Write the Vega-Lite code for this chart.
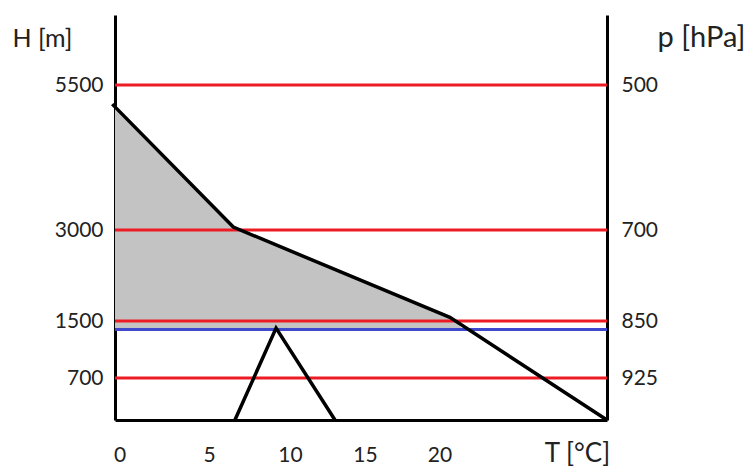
{
  "$schema": "https://vega.github.io/schema/vega-lite/v6.json",
  "width": 492,
  "height": 405,
  "autosize": "none",
  "padding": {"left": 115, "top": 15, "right": 146, "bottom": 46},
  "background": "white",
  "config": {"view": {"stroke": null}, "font": "Lato"},
  "datasets": {
    "fill": [
      {"T": -0.28, "H": 5120, "H2": 1380},
      {"T": 6.5, "H": 3050, "H2": 1380},
      {"T": 20.7, "H": 1560, "H2": 1380},
      {"T": 21.6, "H": 1380, "H2": 1380}
    ],
    "levels": [{"H": 5500}, {"H": 3000}, {"H": 1500}, {"H": 700}],
    "inversion": [{"H": 1380}],
    "lines": [
      {"series": "profile", "o": 1, "T": -0.45, "H": 5170},
      {"series": "profile", "o": 2, "T": 6.5, "H": 3050},
      {"series": "profile", "o": 3, "T": 20.7, "H": 1560},
      {"series": "profile", "o": 4, "T": 31.3, "H": 0},
      {"series": "parcel", "o": 1, "T": 6.6, "H": 0},
      {"series": "parcel", "o": 2, "T": 9.14, "H": 1400},
      {"series": "parcel", "o": 3, "T": 13.0, "H": 0}
    ]
  },
  "layer": [
    {
      "data": {"name": "fill"},
      "mark": {"type": "area", "color": "#c3c3c3", "opacity": 1},
      "encoding": {
        "x": {
          "field": "T", "type": "quantitative",
          "scale": {"domain": [-0.28, 0, 5, 10, 15, 20, 31.3], "range": [0, 4.5, 94, 175, 250, 324.5, 492], "nice": false, "zero": false},
          "axis": {"values": [0, 5, 10, 15, 20], "ticks": false, "grid": false, "domainColor": "black", "domainWidth": 3, "labelFont": "Lato", "labelFontSize": 21, "labelColor": "#222222", "labelPadding": 35, "labelBaseline": "middle", "labelAngle": 0, "labelOverlap": false, "labelFlush": false, "title": "T [°C]", "titleFont": "Lato", "titleFontSize": 26, "titleFontWeight": "normal", "titleColor": "#222222", "titleX": 462, "titleY": 33, "titleBaseline": "middle", "titleAlign": "center"}
        },
        "y": {
          "field": "H", "type": "quantitative",
          "scale": {"domain": [0, 700, 1500, 3000, 5500, 6700], "range": [405, 363, 306, 215, 70, 0], "nice": false, "zero": false},
          "axis": {"orient": "left", "values": [700, 1500, 3000, 5500], "format": "d", "ticks": false, "grid": false, "domainColor": "black", "domainWidth": 3, "labelFont": "Lato", "labelFontSize": 21, "labelColor": "#222222", "labelPadding": 12, "labelOverlap": false, "labelFlush": false, "title": "H [m]", "titleAngle": 0, "titleX": -103, "titleY": 23, "titleAlign": "left", "titleBaseline": "middle", "titleFont": "Lato", "titleFontSize": 25, "titleFontWeight": "normal", "titleColor": "#222222"}
        },
        "y2": {"field": "H2"}
      }
    },
    {
      "data": {"name": "levels"},
      "mark": {"type": "rule", "color": "#ed1c24", "strokeWidth": 3},
      "encoding": {
        "y": {
          "field": "H", "type": "quantitative",
          "scale": {"domain": [0, 700, 1500, 3000, 5500, 6700], "range": [405, 363, 306, 215, 70, 0], "nice": false, "zero": false},
          "axis": {"orient": "right", "values": [5500, 3000, 1500, 700], "labelExpr": "datum.value == 5500 ? '500' : datum.value == 3000 ? '700' : datum.value == 1500 ? '850' : '925'", "ticks": false, "grid": false, "domainColor": "black", "domainWidth": 3, "labelFont": "Lato", "labelFontSize": 21, "labelColor": "#222222", "labelPadding": 14, "labelAlign": "left", "labelOverlap": false, "labelFlush": false, "title": "p [hPa]", "titleAngle": 0, "titleX": 50, "titleY": 22, "titleAlign": "left", "titleBaseline": "middle", "titleFont": "Lato", "titleFontSize": 29, "titleFontWeight": "normal", "titleColor": "#222222"}
        }
      }
    },
    {
      "data": {"name": "inversion"},
      "mark": {"type": "rule", "color": "#3f48cc", "strokeWidth": 3},
      "encoding": {
        "y": {
          "field": "H", "type": "quantitative",
          "scale": {"domain": [0, 700, 1500, 3000, 5500, 6700], "range": [405, 363, 306, 215, 70, 0], "nice": false, "zero": false},
          "axis": null
        }
      }
    },
    {
      "data": {"name": "lines"},
      "mark": {"type": "line", "color": "black", "strokeWidth": 3.5},
      "encoding": {
        "x": {
          "field": "T", "type": "quantitative",
          "scale": {"domain": [-0.28, 0, 5, 10, 15, 20, 31.3], "range": [0, 4.5, 94, 175, 250, 324.5, 492], "nice": false, "zero": false},
          "axis": {"values": [0, 5, 10, 15, 20], "ticks": false, "grid": false, "domainColor": "black", "domainWidth": 3, "labelFont": "Lato", "labelFontSize": 21, "labelColor": "#222222", "labelPadding": 35, "labelBaseline": "middle", "labelAngle": 0, "labelOverlap": false, "labelFlush": false, "title": "T [°C]", "titleFont": "Lato", "titleFontSize": 26, "titleFontWeight": "normal", "titleColor": "#222222", "titleX": 462, "titleY": 33, "titleBaseline": "middle", "titleAlign": "center"}
        },
        "y": {
          "field": "H", "type": "quantitative",
          "scale": {"domain": [0, 700, 1500, 3000, 5500, 6700], "range": [405, 363, 306, 215, 70, 0], "nice": false, "zero": false},
          "axis": null
        },
        "detail": {"field": "series"},
        "order": {"field": "o"}
      }
    }
  ],
  "resolve": {"axis": {"y": "independent"}}
}
